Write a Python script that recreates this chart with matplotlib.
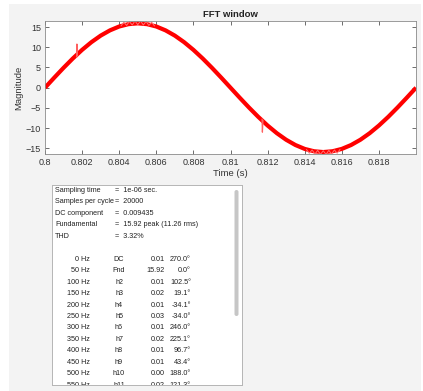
import numpy as np
import matplotlib
matplotlib.use("Agg")
import matplotlib.pyplot as plt
from matplotlib.patches import Rectangle, FancyBboxPatch

# waveform (every 0.5 ms)
t = np.linspace(0.8, 0.82, 41)
v = [0.0, 2.49, 4.92, 7.23, 9.36, 11.26, 12.88, 14.18, 15.14, 15.72,
     15.92, 15.72, 15.14, 14.18, 12.88, 11.26, 9.36, 7.23, 4.92, 2.49,
     0.0, -2.49, -4.92, -7.23, -9.36, -11.26, -12.88, -14.18, -15.14, -15.72,
     -15.92, -15.72, -15.14, -14.18, -12.88, -11.26, -9.36, -7.23, -4.92, -2.49,
     0.0]

# ripple around the peak and trough
zig_t_hi = [0.80410, 0.80425, 0.80440, 0.80455, 0.80470, 0.80485, 0.80500,
            0.80515, 0.80530, 0.80545, 0.80560, 0.80575, 0.80590]
zig_v_hi = [15.3, 16.2, 15.4, 16.4, 15.5, 16.5, 15.6, 16.5, 15.5, 16.4, 15.4, 16.2, 15.3]
zig_t_lo = [0.81410, 0.81425, 0.81440, 0.81455, 0.81470, 0.81485, 0.81500,
            0.81515, 0.81530, 0.81545, 0.81560, 0.81575, 0.81590]
zig_v_lo = [-15.3, -16.2, -15.4, -16.4, -15.5, -16.5, -15.6, -16.5, -15.5, -16.4, -15.4, -16.2, -15.3]

# spikes
spike_t = [0.80170, 0.80172, 0.80175]
spike_v = [7.6, 10.8, 7.9]
spike2_t = [0.81170, 0.81172, 0.81175]
spike2_v = [-7.8, -11.0, -8.1]

xticks = [0.8, 0.802, 0.804, 0.806, 0.808, 0.81, 0.812, 0.814, 0.816, 0.818]
xticklabels = ["0.8", "0.802", "0.804", "0.806", "0.808", "0.81",
               "0.812", "0.814", "0.816", "0.818"]
yticks = [-15, -10, -5, 0, 5, 10, 15]

# info panel
info_names = ["Sampling time", "Samples per cycle", "DC component", "Fundamental", "THD"]
info_values = ["1e-06 sec.", "20000", "0.009435", "15.92 peak (11.26 rms)", "3.32%"]

freqs = ["0 Hz", "50 Hz", "100 Hz", "150 Hz", "200 Hz", "250 Hz", "300 Hz",
         "350 Hz", "400 Hz", "450 Hz", "500 Hz", "550 Hz"]
harm = ["DC", "Fnd", "h2", "h3", "h4", "h5", "h6", "h7", "h8", "h9", "h10", "h11"]
mags = ["0.01", "15.92", "0.01", "0.02", "0.01", "0.03", "0.01", "0.02",
        "0.01", "0.01", "0.00", "0.02"]
phases = ["270.0°", "0.0°", "102.5°", "19.1°", "-34.1°", "-34.0°", "246.0°",
          "225.1°", "96.7°", "43.4°", "188.0°", "121.3°"]

W, H = 423, 391
plt.rcParams['font.family'] = ['Liberation Sans', 'DejaVu Sans']

fig = plt.figure(figsize=(W / 100, H / 100), dpi=100)
fig.patch.set_facecolor("white")


def fx(px):
    return px / W


def fy(py):
    return 1 - py / H


# gray panel
fig.patches.append(Rectangle((fx(9), 0), fx(421) - fx(9), fy(4), transform=fig.transFigure,
                             facecolor="#f3f3f3", edgecolor="none", zorder=-10))

ax = fig.add_axes([fx(45), fy(154), fx(416) - fx(45), fy(21) - fy(154)])
ax.plot(t, v, color="red", lw=3.0, solid_capstyle="butt")
ax.plot(zig_t_hi, zig_v_hi, color="#ff7070", lw=0.7)
ax.plot(zig_t_lo, zig_v_lo, color="#ff7070", lw=0.7)
ax.plot(spike_t, spike_v, color="#ff6060", lw=0.9)
ax.plot(spike2_t, spike2_v, color="#ff6060", lw=0.9)
ax.set_xlim(0.8, 0.82)
ax.set_ylim(-16.4, 16.5)
ax.set_xticks(xticks)
ax.set_xticklabels(xticklabels)
ax.set_yticks(yticks)
ax.tick_params(direction="in", top=True, right=True, length=3, width=0.6,
               labelsize=6.5, colors="#555555", labelcolor="#333333", pad=3)
for s in ax.spines.values():
    s.set_color("#8a8a8a")
    s.set_linewidth(0.6)
ax.set_title("FFT window", fontsize=6.8, fontweight="bold", color="#222222", pad=3)
ax.set_xlabel("Time (s)", fontsize=6.8, color="#333333", labelpad=1)
ax.set_ylabel("Magnitude", fontsize=6.8, color="#333333", labelpad=2)

# table box
tb = fig.add_axes([fx(52), fy(385), fx(242) - fx(52), fy(185) - fy(385)])
tb.set_xlim(52, 242)
tb.set_ylim(385, 185)
tb.set_xticks([])
tb.set_yticks([])
tb.set_facecolor("white")
for s in tb.spines.values():
    s.set_color("#b5b5b5")
    s.set_linewidth(0.7)

tb.add_patch(FancyBboxPatch((234.5, 190), 4, 126, boxstyle="round,pad=0,rounding_size=2",
                            facecolor="#c6c6c6", edgecolor="none"))

fs = 5.2
row_h = 11.45
y0 = 190.5
for i, (name, val) in enumerate(zip(info_names, info_values)):
    y = y0 + i * row_h
    tb.text(55, y, name, fontsize=fs, va="center", ha="left", color="#222222")
    tb.text(115, y, "=  " + val, fontsize=fs, va="center", ha="left", color="#222222")

for i in range(len(freqs)):
    y = y0 + (i + 6) * row_h
    kw = dict(fontsize=fs, va="center", color="#222222", clip_on=True)
    tb.text(90, y, freqs[i], ha="right", **kw)
    tb.text(119, y, harm[i], ha="center", **kw)
    tb.text(165, y, mags[i], ha="right", **kw)
    tb.text(191, y, phases[i], ha="right", **kw)

fig.savefig("out.png", dpi=100, facecolor=fig.get_facecolor())
